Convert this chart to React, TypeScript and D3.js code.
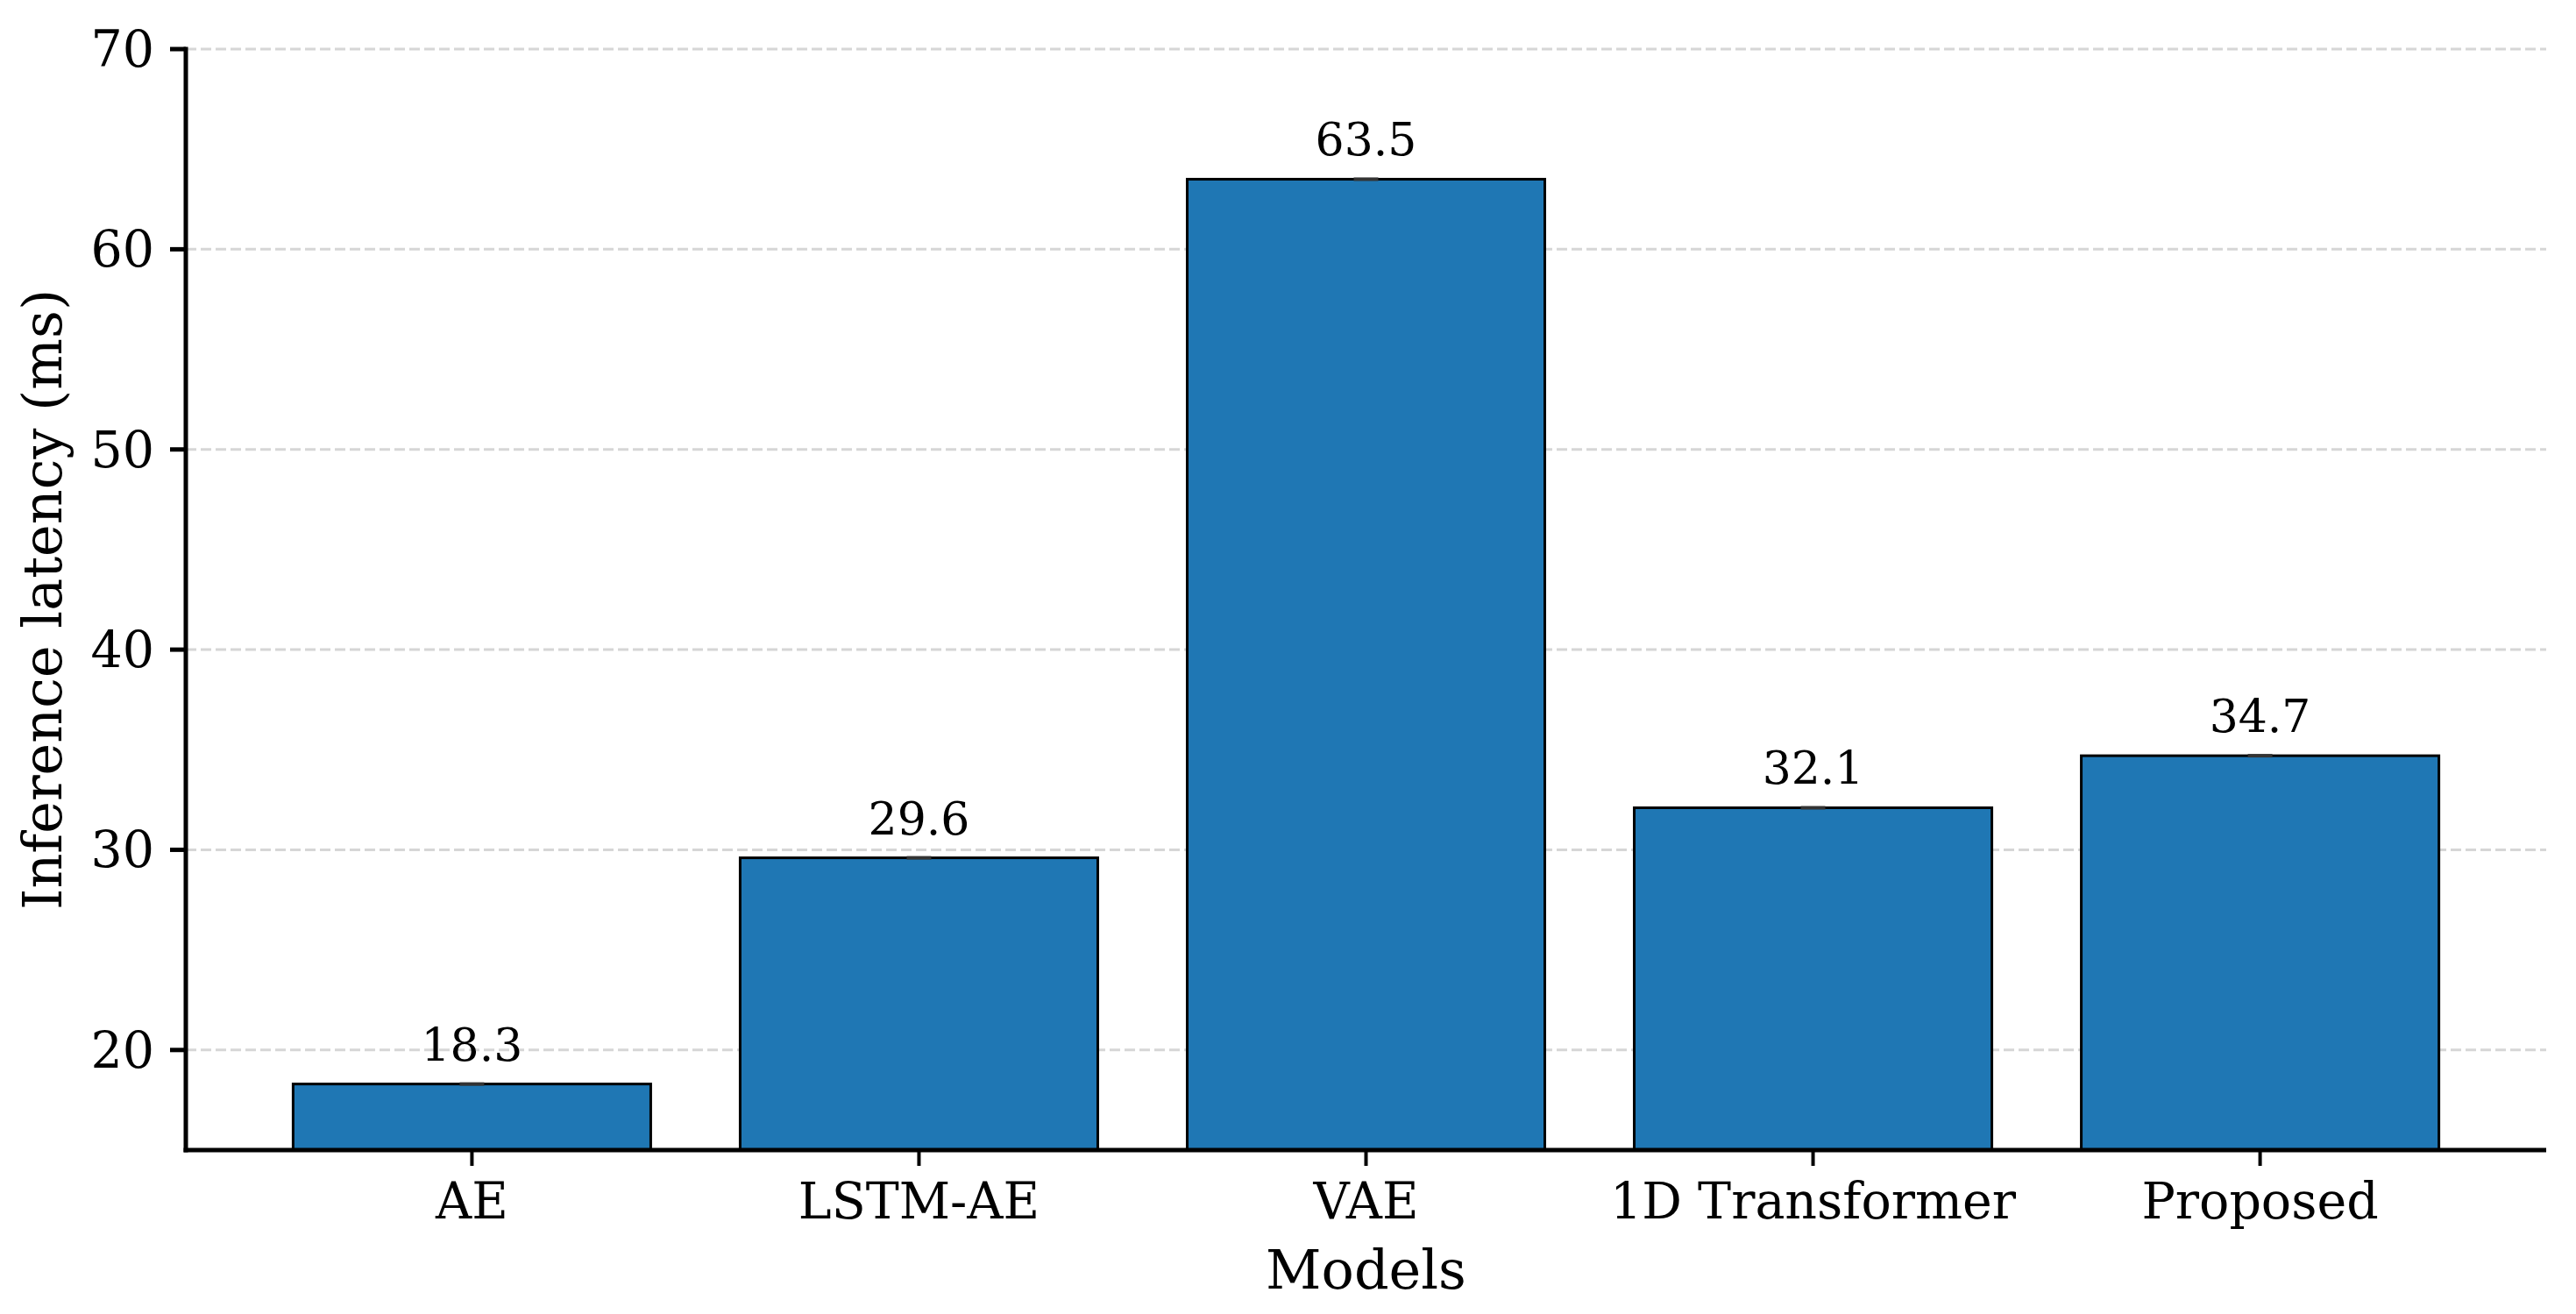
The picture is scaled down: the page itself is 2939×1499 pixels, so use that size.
import React from "react";
import * as d3 from "d3";

const categories = ["AE", "LSTM-AE", "VAE", "1D Transformer", "Proposed"];
const latency = [18.3, 29.6, 63.5, 32.1, 34.7];
const yTicks = [20, 30, 40, 50, 60, 70];

const W = 2939;
const H = 1499;
const left = 212;
const right = 2905;
const top = 56;
const bottom = 1312;
const FONT = "'DejaVu Serif', serif";

export default function App() {
  const x = d3.scaleLinear().domain([-0.64, categories.length - 1 + 0.64]).range([left, right]);
  const y = d3.scaleLinear().domain([15, 70]).range([bottom, top]);
  const barW = x(0.8) - x(0);

  return (
    <svg
      width={W}
      height={H}
      viewBox={`0 0 ${W} ${H}`}
      style={{ position: "absolute", left: 0, top: 0, background: "#fff" }}
      fontFamily={FONT}
    >
      <rect x={0} y={0} width={W} height={H} fill="#fff" />
      {/* grid */}
      {yTicks.map((t) => (
        <line
          key={"g" + t}
          x1={left}
          x2={right}
          y1={y(t)}
          y2={y(t)}
          stroke="#d6d6d6"
          strokeWidth={3}
          strokeDasharray="12 5"
        />
      ))}
      {/* bars */}
      {categories.map((c, i) => (
        <g key={c}>
          <rect
            x={x(i) - barW / 2}
            y={y(latency[i])}
            width={barW}
            height={y(15) - y(latency[i])}
            fill="#1f77b4"
            stroke="#000"
            strokeWidth={3}
          />
          <line
            x1={x(i) - 14}
            x2={x(i) + 14}
            y1={y(latency[i])}
            y2={y(latency[i])}
            stroke="#333"
            strokeWidth={4}
          />
          <text
            x={x(i)}
            y={y(latency[i]) - 27}
            textAnchor="middle"
            fontSize={52}
            fill="#000"
          >
            {latency[i].toFixed(1)}
          </text>
        </g>
      ))}
      {/* y axis */}
      <line x1={left} x2={left} y1={top - 2.5} y2={bottom + 2.5} stroke="#000" strokeWidth={5} />
      {yTicks.map((t) => (
        <g key={"y" + t}>
          <line x1={left - 18} x2={left} y1={y(t)} y2={y(t)} stroke="#000" strokeWidth={5} />
          <text x={left - 36} y={y(t) + 20} textAnchor="end" fontSize={57} fill="#000">
            {t}
          </text>
        </g>
      ))}
      {/* x axis */}
      <line x1={left - 2.5} x2={right} y1={bottom} y2={bottom} stroke="#000" strokeWidth={5} />
      {categories.map((c, i) => (
        <g key={"x" + c}>
          <line x1={x(i)} x2={x(i)} y1={bottom} y2={bottom + 18} stroke="#000" strokeWidth={4} />
          <text x={x(i)} y={1390} textAnchor="middle" fontSize={57} fill="#000">
            {c}
          </text>
        </g>
      ))}
      <text x={(left + right) / 2} y={1470} textAnchor="middle" fontSize={62} fill="#000">
        Models
      </text>
      <text
        transform={`translate(70, ${(top + bottom) / 2}) rotate(-90)`}
        textAnchor="middle"
        fontSize={62}
        fill="#000"
      >
        Inference latency (ms)
      </text>
    </svg>
  );
}
